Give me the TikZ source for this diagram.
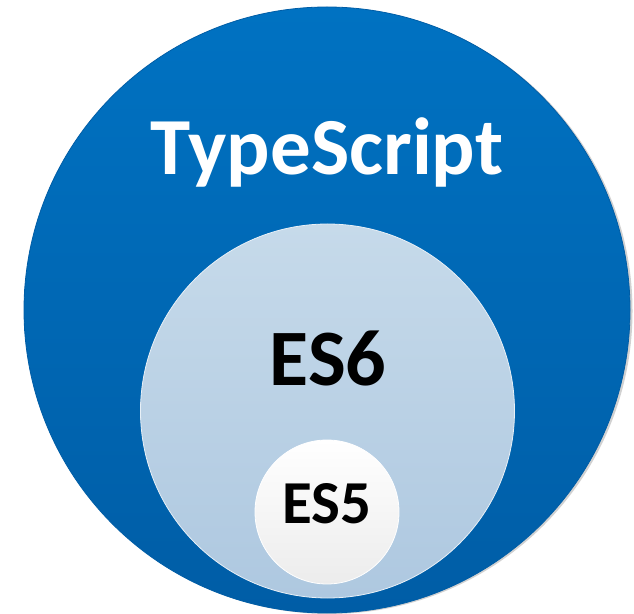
\documentclass[tikz,border=0pt]{standalone}
\usepackage{fontspec}
\setmainfont{Carlito}
\definecolor{tsTop}{HTML}{0072C2}
\definecolor{tsBottom}{HTML}{005DA6}
\definecolor{esSixTop}{HTML}{C6DAEA}
\definecolor{esSixBottom}{HTML}{AEC8E0}
\definecolor{esFiveTop}{HTML}{FFFFFF}
\definecolor{esFiveBottom}{HTML}{ECECEC}

\begin{document}
\begin{tikzpicture}
[x=1pt,y=1pt,
  ringDecorate/.style={shape=circle,inner sep=0pt,shading=axis},%
  textDecorate/.style={anchor=base,inner sep=0pt}]
\useasboundingbox (0,0) rectangle (634,613);
%% soft shadow of the outer ring
\node (tsShadow) at (329.5,302) [shape=circle,inner sep=0pt,fill=black!18,minimum size=606pt] {};
%% rings
\foreach \nodename/\x/\y/\d/\topc/\botc/\edge in {
  ts/327/303/606/tsTop/tsBottom/tsBottom,
  es6/327.5/202/374/esSixTop/esSixBottom/white!60!esSixTop,
  es5/327/101/144/esFiveTop/esFiveBottom/white}
{
  \node (\nodename) at (\x,\y) [ringDecorate,minimum size=\d pt,
    top color=\topc,bottom color=\botc,draw=\edge,line width=0.8pt] {};
}
%% labels
\node (tsLabel) at (327,438) [textDecorate,text=white,
  font=\bfseries\fontsize{81}{81}\selectfont] {TypeScript};
\node (es6Label) at (328,227.5) [textDecorate,text=black,
  font=\bfseries\fontsize{80}{80}\selectfont] {ES6};
\node (es5Label) at (327,89) [textDecorate,text=black,
  font=\bfseries\fontsize{61}{61}\selectfont] {ES5};
\end{tikzpicture}
\end{document}
